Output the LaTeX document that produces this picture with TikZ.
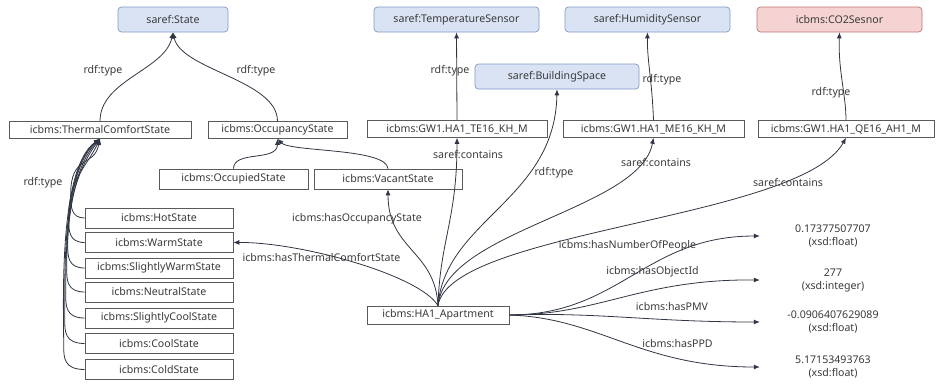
\documentclass[tikz,border=0pt]{standalone}
\usepackage{fontspec}
\setmainfont{Noto Sans}
\usetikzlibrary{arrows.meta}
\definecolor{clsfill}{HTML}{DAE3F3}
\definecolor{clsdraw}{HTML}{7F9BC8}
\definecolor{redfill}{HTML}{F4D3D2}
\definecolor{reddraw}{HTML}{B97775}
\definecolor{instdraw}{HTML}{5A5A5A}
\definecolor{txt}{HTML}{3A3A3A}
\definecolor{edgec}{HTML}{2F3542}
\begin{document}
\begin{tikzpicture}[x=1pt,y=-1pt,
  font=\fontsize{10.6}{13}\selectfont, text=txt,
  cls/.style={draw=clsdraw, fill=clsfill, rounded corners=3.5pt, line width=0.7pt, inner sep=0pt, minimum height=25pt},
  redcls/.style={draw=reddraw, fill=redfill, rounded corners=3.5pt, line width=0.7pt, inner sep=0pt, minimum height=25pt},
  inst/.style={draw=instdraw, fill=white, line width=0.6pt, inner sep=0pt},
  lit/.style={inner sep=0pt, align=center, minimum width=146pt},
  lbl/.style={inner sep=0pt},
  arr/.style={draw=edgec, line width=0.8pt, -{Latex[length=6pt,width=5pt]}}
]
\useasboundingbox (0,0) rectangle (936,383);

% class nodes
\node[cls, minimum width=110pt] (state) at (173,19.5) {saref:State};
\node[cls, minimum width=165pt] (tsens) at (456.5,19.5) {saref:TemperatureSensor};
\node[cls, minimum width=165pt] (hsens) at (647.5,19.5) {saref:HumiditySensor};
\node[redcls, minimum width=165pt] (co2) at (839.5,19.5) {icbms:CO2Sesnor};
\node[cls, minimum width=164pt] (bspace) at (557,76.5) {saref:BuildingSpace};

% instance nodes
\node[inst, minimum width=182pt, minimum height=17pt] (tcs) at (100,130) {icbms:ThermalComfortState};
\node[inst, minimum width=139pt, minimum height=17pt] (occ) at (277.5,130) {icbms:OccupancyState};
\node[inst, minimum width=149pt, minimum height=20pt] (occupied) at (233.5,179) {icbms:OccupiedState};
\node[inst, minimum width=148pt, minimum height=20pt] (vacant) at (388,179) {icbms:VacantState};
\node[inst, minimum width=180pt, minimum height=17pt] (te16) at (457,129) {icbms:GW1.HA1\_TE16\_KH\_M};
\node[inst, minimum width=181pt, minimum height=17pt] (me16) at (653.5,129) {icbms:GW1.HA1\_ME16\_KH\_M};
\node[inst, minimum width=176pt, minimum height=17pt] (qe16) at (846,129) {icbms:GW1.HA1\_QE16\_AH1\_M};

\node[inst, minimum width=148pt, minimum height=20pt] (hot) at (159,218) {icbms:HotState};
\node[inst, minimum width=148pt, minimum height=20pt] (warm) at (159,242.5) {icbms:WarmState};
\node[inst, minimum width=148pt, minimum height=20pt] (swarm) at (159,268) {icbms:SlightlyWarmState};
\node[inst, minimum width=148pt, minimum height=20pt] (neutral) at (159,292) {icbms:NeutralState};
\node[inst, minimum width=148pt, minimum height=20pt] (scool) at (159,318) {icbms:SlightlyCoolState};
\node[inst, minimum width=148pt, minimum height=20pt] (cool) at (159,343.5) {icbms:CoolState};
\node[inst, minimum width=148pt, minimum height=20pt] (cold) at (159,369.5) {icbms:ColdState};

\node[inst, minimum width=142pt, minimum height=18pt] (apt) at (438,315) {icbms:HA1\_Apartment};

% literals
\node[lit] (l1) at (833,236) {0.17377507707\\(xsd:float)};
\node[lit] (l2) at (833,280) {277\\(xsd:integer)};
\node[lit] (l3) at (833,322) {-0.0906407629089\\(xsd:float)};
\node[lit] (l4) at (833,367) {5.17153493763\\(xsd:float)};

% edges: state hierarchy
\draw[arr] (tcs.north) .. controls (100,80) and (165,70) .. (state.south);
\draw[arr] (occ.north) .. controls (277.5,80) and (181,70) .. (state.south);
\draw[arr] (occupied.north) .. controls (233.5,150) and (277.5,162) .. (occ.south);
\draw[arr] (vacant.north) .. controls (387,148) and (290,152) .. (occ.south);

% thermal comfort bundle
\foreach \s/\dx/\cx in {hot/-14/94,warm/-16/86,swarm/-17/78,neutral/-18/72,scool/-19/66,cool/-20/62,cold/-21/58}{
  \draw[arr] (\s.west) .. controls +(\dx,0) and +(0,12) .. ++(\dx,-24)
     .. controls +(0,-40) and (\cx,168) .. (tcs.south);
}

% sensors
\draw[arr] (te16.north) -- (tsens.south);
\draw[arr] (me16.north) .. controls (652,80) and (647,60) .. (hsens.south);
\draw[arr] (qe16.north) .. controls (846,95) and (838,70) .. (co2.south);

% apartment fan (top)
\draw[arr] (apt.north) .. controls (420,275) and (300,242) .. (warm.east);
\draw[arr] (apt.north) .. controls (435,250) and (388,250) .. (vacant.south);
\draw[arr] (apt.north) .. controls (440,240) and (457,220) .. (te16.south);
\draw[arr] (apt.north) .. controls (445,220) and (555,200) .. (bspace.south);
\draw[arr] (apt.north) .. controls (445,230) and (640,210) .. (me16.south);
\draw[arr] (apt.north) .. controls (450,230) and (800,220) .. (qe16.south);

% apartment fan (right)
\draw[arr] (apt.east) .. controls (620,315) and (645,236) .. (l1.west);
\draw[arr] (apt.east) .. controls (600,315) and (640,279) .. (l2.west);
\draw[arr] (apt.east) .. controls (600,312) and (650,322) .. (l3.west);
\draw[arr] (apt.east) .. controls (600,318) and (640,367) .. (l4.west);

% labels
\node[lbl] (t1) at (103,71) {rdf:type};
\node[lbl] (t2) at (256,71) {rdf:type};
\node[lbl] (t3) at (43,183) {rdf:type};
\node[lbl] (t4) at (450,71) {rdf:type};
\node[lbl] (t5) at (662,80) {rdf:type};
\node[lbl] (t6) at (831,93) {rdf:type};
\node[lbl] (t7) at (554,173) {rdf:type};
\node[lbl] (c1) at (468,155) {saref:contains};
\node[lbl] (c2) at (656,163) {saref:contains};
\node[lbl] (c3) at (788,183) {saref:contains};
\node[lbl] (p1) at (357,219) {icbms:hasOccupancyState};
\node[lbl] (p2) at (321.5,258) {icbms:hasThermalComfortState};
\node[lbl] (p3) at (627.5,246) {icbms:hasNumberOfPeople};
\node[lbl] (p4) at (652.5,272) {icbms:hasObjectId};
\node[lbl] (p5) at (672,307) {icbms:hasPMV};
\node[lbl] (p6) at (677.5,344) {icbms:hasPPD};
\end{tikzpicture}
\end{document}
